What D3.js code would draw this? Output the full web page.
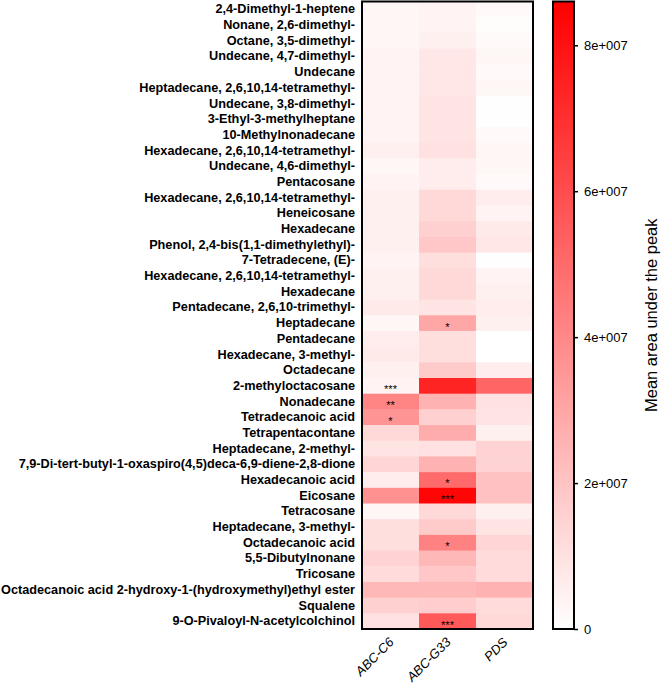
<!DOCTYPE html>
<html>
<head>
<meta charset="utf-8">
<script src="https://cdn.jsdelivr.net/npm/d3@7"></script>
<style>
  html, body { margin: 0; padding: 0; background: #fff; }
  svg { display: block; }
</style>
</head>
<body>
<svg id="chart" width="663" height="684"></svg>
<script>
const compounds = [
  "2,4-Dimethyl-1-heptene",
  "Nonane, 2,6-dimethyl-",
  "Octane, 3,5-dimethyl-",
  "Undecane, 4,7-dimethyl-",
  "Undecane",
  "Heptadecane, 2,6,10,14-tetramethyl-",
  "Undecane, 3,8-dimethyl-",
  "3-Ethyl-3-methylheptane",
  "10-Methylnonadecane",
  "Hexadecane, 2,6,10,14-tetramethyl-",
  "Undecane, 4,6-dimethyl-",
  "Pentacosane",
  "Hexadecane, 2,6,10,14-tetramethyl-",
  "Heneicosane",
  "Hexadecane",
  "Phenol, 2,4-bis(1,1-dimethylethyl)-",
  "7-Tetradecene, (E)-",
  "Hexadecane, 2,6,10,14-tetramethyl-",
  "Hexadecane",
  "Pentadecane, 2,6,10-trimethyl-",
  "Heptadecane",
  "Pentadecane",
  "Hexadecane, 3-methyl-",
  "Octadecane",
  "2-methyloctacosane",
  "Nonadecane",
  "Tetradecanoic acid",
  "Tetrapentacontane",
  "Heptadecane, 2-methyl-",
  "7,9-Di-tert-butyl-1-oxaspiro(4,5)deca-6,9-diene-2,8-dione",
  "Hexadecanoic acid",
  "Eicosane",
  "Tetracosane",
  "Heptadecane, 3-methyl-",
  "Octadecanoic acid",
  "5,5-Dibutylnonane",
  "Tricosane",
  "Octadecanoic acid 2-hydroxy-1-(hydroxymethyl)ethyl ester",
  "Squalene",
  "9-O-Pivaloyl-N-acetylcolchinol"
];
const groups = ["ABC-C6", "ABC-G33", "PDS"];

// mean area under the peak (units of 1e6)
const valuesC6 = [3,3,3,4,4,4,4,4,4,5, 3,4,5,5,5,5,4,5,5,7, 3,6,7,5,4,41,36,13,9,14, 6,37,3,11,11,15,12,24,16,10];
const valuesG33 = [4,4,5,8,8,8,9,9,9,10, 6,6,13,13,16,19,11,13,13,9, 30,11,11,18,74,26,16,28,10,26, 50,84,13,18,42,24,19,24,17,56];
const valuesPDS = [2,1,2,3,2,3,0.5,0.3,2,3, 3,2,6,4,7,8,0.3,4,5,6, 5,0,0,6,52,10,9,5,15,15, 21,21,5,9,14,12,12,26,12,13];

const sigC6 = {"24":"***","25":"**","26":"*"};
const sigG33 = {"20":"*","30":"*","31":"***","34":"*","39":"***"};
const sigPDS = {};

const colorMax = 86; // top of colour bar (units of 1e6)
const tickValues = [0, 20, 40, 60, 80];
const tickLabels = ["0", "2e+007", "4e+007", "6e+007", "8e+007"];
const colorTitle = "Mean area under the peak";

const series = [valuesC6, valuesG33, valuesPDS];
const sigs = [sigC6, sigG33, sigPDS];
const cells = [];
series.forEach((arr, gi) => arr.forEach((v, ri) => cells.push({g: groups[gi], r: ri, v: v, sig: sigs[gi][String(ri)] || ""})));

const svg = d3.select("#chart");
const hm = {x0: 362, x1: 533, y0: 1.5, y1: 629};
const FONT = "Liberation Sans, Arial, sans-serif";

const x = d3.scaleBand().domain(groups).range([hm.x0, hm.x1]).padding(0);
const y = d3.scaleBand().domain(d3.range(compounds.length)).range([hm.y0, hm.y1]).padding(0);
const color = d3.scaleLinear().domain([0, colorMax]).range(["#ffffff", "#ff0000"]).clamp(true);

// cells
svg.append("g").selectAll("rect").data(cells).join("rect")
  .attr("x", d => x(d.g))
  .attr("y", d => y(d.r))
  .attr("width", x.bandwidth() + 0.5)
  .attr("height", y.bandwidth() + 0.5)
  .attr("fill", d => color(d.v));

// significance stars
svg.append("g").selectAll("text").data(cells.filter(d => d.sig)).join("text")
  .attr("x", d => x(d.g) + x.bandwidth() / 2)
  .attr("y", d => y(d.r) + y.bandwidth() / 2 + 7.5)
  .attr("text-anchor", "middle")
  .attr("font-family", FONT)
  .attr("font-size", 11)
  .attr("fill", "#000")
  .text(d => d.sig);

// frame
svg.append("rect")
  .attr("x", hm.x0).attr("y", hm.y0)
  .attr("width", hm.x1 - hm.x0).attr("height", hm.y1 - hm.y0)
  .attr("fill", "none").attr("stroke", "#000").attr("stroke-width", 2);

// row labels
const yAxis = d3.axisLeft(y).tickSize(0).tickPadding(7).tickFormat(i => compounds[i]);
const ya = svg.append("g").attr("transform", `translate(${hm.x0},0)`).call(yAxis);
ya.select(".domain").remove();
ya.selectAll("text")
  .attr("font-family", FONT)
  .attr("font-weight", "bold")
  .attr("font-size", 12.7)
  .attr("fill", "#000");

// column labels
const xAxis = d3.axisBottom(x).tickSize(0).tickPadding(0);
const xa = svg.append("g").attr("transform", `translate(0,${hm.y1})`).call(xAxis);
xa.select(".domain").remove();
xa.selectAll("text")
  .attr("font-family", FONT)
  .attr("font-style", "italic")
  .attr("font-size", 13)
  .attr("fill", "#000")
  .attr("text-anchor", "end")
  .attr("dy", null)
  .attr("y", null)
  .attr("transform", "translate(4,14) rotate(-45)");

// colour bar
const cb = {x: 553, w: 21, y0: hm.y0, y1: hm.y1};
const defs = svg.append("defs");
const grad = defs.append("linearGradient").attr("id", "cbgrad")
  .attr("x1", 0).attr("y1", 1).attr("x2", 0).attr("y2", 0);
grad.selectAll("stop").data([0, colorMax]).join("stop")
  .attr("offset", d => d / colorMax)
  .attr("stop-color", d => color(d));
svg.append("rect")
  .attr("x", cb.x).attr("y", cb.y0).attr("width", cb.w).attr("height", cb.y1 - cb.y0)
  .attr("fill", "url(#cbgrad)").attr("stroke", "#000").attr("stroke-width", 2);

const cy = d3.scaleLinear().domain([0, colorMax]).range([cb.y1, cb.y0]);
const cAxis = d3.axisRight(cy).tickValues(tickValues).tickSize(4).tickPadding(6)
  .tickFormat((d, i) => tickLabels[i]);
const ca = svg.append("g").attr("transform", `translate(${cb.x + cb.w},0)`).call(cAxis);
ca.select(".domain").remove();
ca.selectAll("line").attr("stroke", "#000").attr("stroke-width", 1.5);
ca.selectAll("text")
  .attr("font-family", FONT)
  .attr("font-size", 13)
  .attr("fill", "#000");

svg.append("text")
  .attr("transform", `translate(657,${(cb.y0 + cb.y1) / 2}) rotate(-90)`)
  .attr("text-anchor", "middle")
  .attr("font-family", FONT)
  .attr("font-size", 16.5)
  .attr("fill", "#000")
  .text(colorTitle);
</script>
</body>
</html>
